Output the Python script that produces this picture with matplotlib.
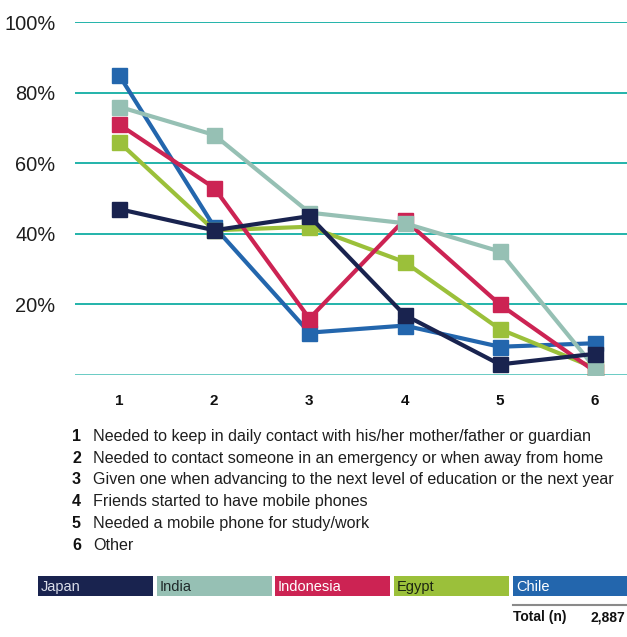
import matplotlib
matplotlib.use("Agg")
import matplotlib.pyplot as plt
from matplotlib.patches import Rectangle
from matplotlib.lines import Line2D

plt.rcParams['font.family'] = ['Liberation Sans', 'DejaVu Sans']

# Reasons (x categories) and shares per country, in percent
reasons = [1, 2, 3, 4, 5, 6]
reason_labels = [
    "Needed to keep in daily contact with his/her mother/father or guardian",
    "Needed to contact someone in an emergency or when away from home",
    "Given one when advancing to the next level of education or the next year",
    "Friends started to have mobile phones",
    "Needed a mobile phone for study/work",
    "Other",
]
countries = ["Japan", "India", "Indonesia", "Egypt", "Chile"]
japan = [47, 41, 45, 17, 3, 6]
india = [76, 68, 46, 43, 35, 2]
indonesia = [71, 53, 16, 44, 20, 1]
egypt = [66, 41, 42, 32, 13, 2]
chile = [85, 42, 12, 14, 8, 9]
y_ticks = [20, 40, 60, 80, 100]
total_n = "2,887"

colors = {
    "Japan": "#19234f",
    "India": "#96c0b4",
    "Indonesia": "#cc2353",
    "Egypt": "#9bc03a",
    "Chile": "#2366ad",
}
text_colors = {
    "Japan": "#d9dde9",
    "India": "#1f2a2a",
    "Indonesia": "#ffffff",
    "Egypt": "#1c2612",
    "Chile": "#ffffff",
}
series = {"Japan": japan, "India": india, "Indonesia": indonesia,
          "Egypt": egypt, "Chile": chile}
draw_order = ["Chile", "Egypt", "Indonesia", "India", "Japan"]

W, H = 627, 637
fig = plt.figure(figsize=(W / 100, H / 100), dpi=100)


def px(x, y):
    return x / W, 1 - y / H


# main plot area
left, right, top, bottom = 75, 627, 22, 375
ax = fig.add_axes([left / W, 1 - bottom / H, (right - left) / W, (bottom - top) / H])
ax.set_xlim(0.538, 6.336)
ax.set_ylim(0, 100)

for yv in y_ticks:
    ax.axhline(yv, color="#22b3aa", lw=1.4, zorder=1)
ax.axhline(0, color="#5cc6be", lw=2.0, zorder=1)

for z, name in enumerate(draw_order):
    ax.plot(reasons, series[name], color=colors[name], lw=3.0,
            marker="s", markersize=10.8, zorder=3 + z, solid_joinstyle="miter")

for s in ax.spines.values():
    s.set_visible(False)
ax.set_yticks(y_ticks)
ax.set_yticklabels([f"{v}%" for v in y_ticks], fontsize=14.4, color="#1e1e1e")
ax.tick_params(axis="y", length=0, pad=14)
ax.set_xticks(reasons)
ax.set_xticklabels([str(r) for r in reasons], fontsize=11, fontweight="bold",
                   color="#111111")
ax.tick_params(axis="x", length=0, pad=14)

# numbered list of reasons
for i, (r, lab) in enumerate(zip(reasons, reason_labels)):
    yy = 436.5 + i * 21.7
    fig.text(*px(76.5, yy), str(r), fontsize=11.5, fontweight="bold",
             ha="center", va="center", color="#111111")
    fig.text(*px(93, yy), lab, fontsize=11.6, ha="left", va="center",
             color="#1e1e1e")

# colour key boxes
boxes = [(38, 153), (157, 272), (275, 390), (394, 509), (513, 627)]
for name, (x0, x1) in zip(countries, boxes):
    fig.patches.append(Rectangle(px(x0, 596), (x1 - x0) / W, 20 / H,
                                 transform=fig.transFigure,
                                 facecolor=colors[name], edgecolor="none"))
    fig.text(*px(x0 + 3, 587), name, fontsize=10.5, ha="left", va="center",
             color=text_colors[name])

fig.lines.append(Line2D([513 / W, 1.0], [1 - 605 / H] * 2,
                        transform=fig.transFigure, color="#8a8a8a", lw=1.5))
fig.text(*px(513, 617), "Total (n)", fontsize=10, fontweight="bold",
         ha="left", va="center", color="#111111")
fig.text(*px(625, 617), total_n, fontsize=10, fontweight="bold",
         ha="right", va="center", color="#111111")

fig.savefig("out.png", dpi=100)
